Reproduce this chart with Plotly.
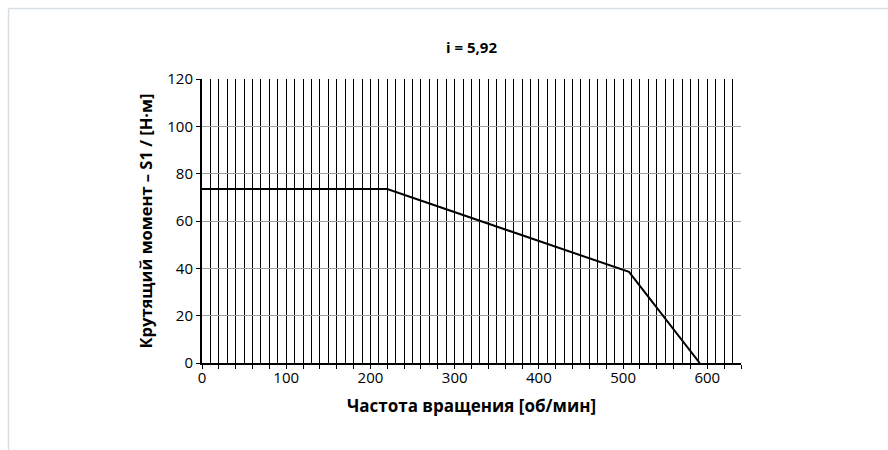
import plotly.graph_objects as go

# Torque limit curve (S1) for gear ratio i = 5,92
speed_rpm = [0, 220, 507, 591]
torque_nm = [73.5, 73.5, 38.5, 0]

x_max = 640
y_max = 120
x_grid_step = 10
x_label_step = 100
x_tick_step = 20
y_step = 20

x_grid_vals = list(range(0, x_max + 1, x_grid_step))
x_grid_text = [str(v) if v % x_label_step == 0 else "" for v in x_grid_vals]

FONT = "Open Sans, Noto Sans, sans-serif"

# plot area in pixels
L, R, T, B = 202, 147, 79, 87
W, H = 888, 450
pw, ph = W - L - R, H - T - B


def px_to_paper_x(px):
    return (px - L) / pw


def px_to_paper_y(py):
    return (H - B - py) / ph


fig = go.Figure()
fig.add_trace(go.Scatter(
    x=speed_rpm, y=torque_nm, mode="lines",
    line=dict(color="black", width=2),
    hoverinfo="x+y", showlegend=False,
))

# light frame around the chart area
frame_color = "#d6dfe5"
fig.add_shape(type="line", xref="paper", yref="paper",
              x0=px_to_paper_x(8.5), y0=px_to_paper_y(8.5),
              x1=px_to_paper_x(W + 5), y1=px_to_paper_y(8.5),
              line=dict(color=frame_color, width=1.5))
fig.add_shape(type="line", xref="paper", yref="paper",
              x0=px_to_paper_x(8.5), y0=px_to_paper_y(8.5),
              x1=px_to_paper_x(8.5), y1=px_to_paper_y(H + 5),
              line=dict(color=frame_color, width=1.5))

fig.update_layout(
    width=W, height=H,
    margin=dict(l=L, r=R, t=T, b=B),
    paper_bgcolor="white", plot_bgcolor="white",
    font=dict(family=FONT, size=15, color="black"),
    title=dict(text="<b>i = 5,92</b>", x=0.5, xref="paper", xanchor="center",
               y=1 - 48 / H, yref="container", yanchor="middle",
               font=dict(family=FONT, size=15, color="black")),
    xaxis=dict(
        range=[0, x_max],
        tickmode="array", tickvals=x_grid_vals, ticktext=x_grid_text,
        ticks="", showgrid=True, gridcolor="black", gridwidth=1,
        minor=dict(tick0=0, dtick=x_tick_step, ticks="outside", ticklen=4,
                   tickcolor="black", showgrid=False),
        showline=True, linecolor="black", linewidth=2,
        zeroline=False,
        tickfont=dict(family=FONT, size=15, color="black"),
        title=dict(text="<b>Частота вращения [об/мин]</b>", standoff=14,
                   font=dict(family=FONT, size=17)),
    ),
    yaxis=dict(
        range=[0, y_max], dtick=y_step, tick0=0,
        ticks="outside", ticklen=4, tickcolor="black",
        showgrid=True, gridcolor="#a0a0a0", gridwidth=1,
        showline=True, linecolor="black", linewidth=2,
        zeroline=False,
        tickfont=dict(family=FONT, size=15, color="black"),
        title=dict(text="<b>Крутящий момент – S1 / [Н·м]</b>", standoff=10,
                   font=dict(family=FONT, size=16.5)),
    ),
)

fig.write_html("out.html")
